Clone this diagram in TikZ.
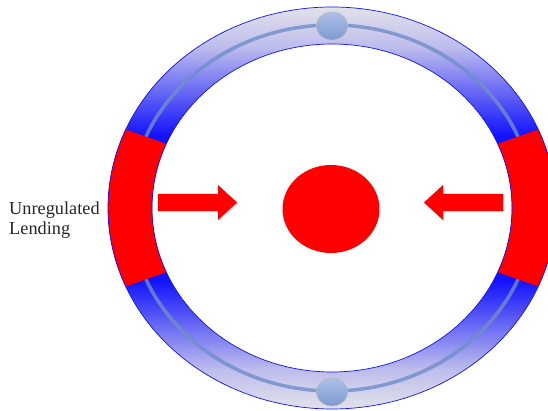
\documentclass[tikz,border=0pt]{standalone}
\usepackage{fontspec}
\setmainfont{Liberation Serif}
\usetikzlibrary{shapes.geometric,shadows,calc}
\definecolor{ringlight}{RGB}{226,226,234}
\definecolor{ringblue}{RGB}{18,18,252}
\definecolor{trackblue}{RGB}{112,142,200}
\definecolor{knobtop}{RGB}{172,192,232}
\definecolor{knobbot}{RGB}{126,154,208}
\definecolor{bandred}{RGB}{255,0,0}
\colorlet{ringmidA}{ringblue!18!ringlight}
\colorlet{ringmidB}{ringblue!55!ringlight}
\pgfdeclareverticalshading{ringshade}{100bp}{color(0bp)=(ringlight); color(25bp)=(ringlight); color(30bp)=(ringmidA); color(35bp)=(ringmidB); color(41bp)=(ringblue); color(59bp)=(ringblue); color(65bp)=(ringmidB); color(70bp)=(ringmidA); color(75bp)=(ringlight); color(100bp)=(ringlight)}

\begin{document}
\begin{tikzpicture}[
  x=1pt,y=1pt,
  track/.style={draw=trackblue,draw opacity=.8,line width=3.5pt},
  rim/.style={draw=ringblue,line width=.7pt},
  knob/.style={ellipse,minimum width=31pt,minimum height=28pt,inner sep=0pt,top color=knobtop,bottom color=knobbot,draw=gray!55,line width=.6pt},
  core/.style={ellipse,minimum width=97pt,minimum height=88pt,inner sep=0pt,fill=bandred},
  push/.style={fill=bandred,drop shadow={shadow xshift=1.2pt,shadow yshift=-1.2pt,opacity=.3}},
  lbl/.style={align=left,inner sep=0pt,text=black!85,font=\fontsize{18.3}{20.5}\selectfont}
]
\useasboundingbox (0,0) rectangle (548,411);
\clip (0,0) rectangle (548,411);
\coordinate (ctr) at (332,203);
% ring with vertical gradient
\path[shading=ringshade,even odd rule] (ctr) ellipse[x radius=224pt,y radius=201pt] (ctr) ellipse[x radius=180pt,y radius=164pt];
\draw[track] (ctr) ellipse[x radius=202pt,y radius=183pt];
% red bands
\fill[bandred] ($(ctr)+(157:224pt and 201pt)$) arc[start angle=157,end angle=203,x radius=224pt,y radius=201pt]
  -- ($(ctr)+(203:180pt and 164pt)$) arc[start angle=203,end angle=157,x radius=180pt,y radius=164pt] -- cycle;
\fill[bandred] ($(ctr)+(-23:224pt and 201pt)$) arc[start angle=-23,end angle=23,x radius=224pt,y radius=201pt]
  -- ($(ctr)+(23:180pt and 164pt)$) arc[start angle=23,end angle=-23,x radius=180pt,y radius=164pt] -- cycle;
\draw[rim] (ctr) ellipse[x radius=224pt,y radius=201pt];
\draw[rim] (ctr) ellipse[x radius=180pt,y radius=164pt];
% knobs on the track
\node[knob] (topknob) at (332,385) {};
\node[knob] (botknob) at (332,19) {};
% centre and arrows
\node[core] (core) at (331,202) {};
\fill[push] (158,200) -- (218,200) -- (218,191) -- (237,208.5) -- (218,226) -- (218,217) -- (158,217) -- cycle;
\fill[push] (503,200) -- (443,200) -- (443,191) -- (424,208.5) -- (443,226) -- (443,217) -- (503,217) -- cycle;
\node[lbl,anchor=west] (lending) at (9,191) {Unregulated\\Lending};
\end{tikzpicture}
\end{document}
